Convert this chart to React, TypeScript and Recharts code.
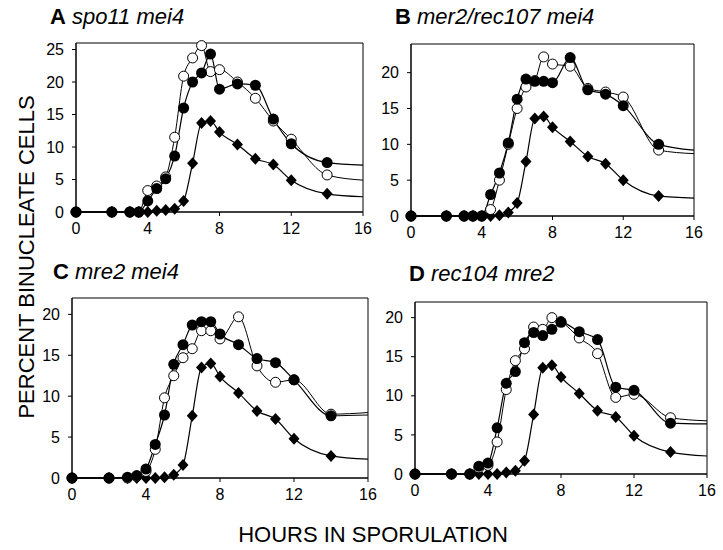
import React from "react";
import { LineChart, Line, XAxis, YAxis, ReferenceArea } from "recharts";

const hours = [0, 2, 3, 3.5, 4, 4.5, 5, 5.5, 6, 6.5, 7, 7.5, 8, 9, 10, 11, 12, 14, 16];
const xTicks = [0, 4, 8, 12, 16];

// panel A: spo11 mei4
const aFilled = [0, 0, 0, 0, 1.7, 3.6, 5.1, 8.6, 16.0, 20.0, 21.4, 24.3, 18.9, 19.7, 19.5, 14.3, 10.5, 7.6, 7.2];
const aOpen = [0, 0, 0, 0, 3.3, 4.0, 5.4, 11.5, 20.9, 23.7, 25.6, 21.6, 21.9, 20.0, 17.5, 14.0, 11.2, 5.7, 4.9];
const aDiamond = [0, 0, 0, 0, 0, 0.2, 0.3, 0.5, 1.7, 7.5, 13.7, 14.0, 12.3, 10.4, 8.2, 7.3, 4.9, 2.8, 2.35];

// panel B: mer2/rec107 mei4
const bFilled = [0, 0, 0, 0, 0, 3.0, 6.0, 10.2, 16.3, 19.1, 18.8, 18.8, 18.6, 22.1, 17.6, 17.0, 15.4, 10.0, 9.2];
const bOpen = [0, 0, 0, 0, 0, 0.9, 5.0, 10.0, 15.0, 18.0, 18.9, 22.2, 21.2, 20.9, 17.8, 17.3, 16.6, 9.2, 8.7];
const bDiamond = [0, 0, 0, 0, 0, 0, 0.1, 0.5, 1.8, 7.6, 13.6, 13.9, 12.4, 10.4, 8.3, 7.3, 5.0, 2.8, 2.5];

// panel C: mre2 mei4
const cFilled = [0, 0, 0.1, 0.3, 1.1, 4.1, 7.7, 13.9, 16.3, 18.7, 19.1, 19.1, 17.6, 16.3, 14.6, 14.1, 12.0, 7.6, 7.7];
const cOpen = [0, 0, 0, 0.2, 0.8, 3.5, 9.8, 12.5, 14.7, 15.8, 18.0, 18.0, 17.0, 19.7, 13.7, 11.7, 12.0, 7.8, 8.0];
const cDiamond = [0, 0, 0, 0, 0, 0, 0.1, 0.4, 1.6, 7.6, 13.5, 14.0, 12.4, 10.4, 8.2, 7.2, 4.8, 2.7, 2.3];

// panel D: rec104 mre2
const dFilled = [0, 0, 0, 1.0, 1.4, 5.9, 11.6, 13.1, 16.8, 18.1, 17.7, 18.5, 19.4, 18.2, 17.2, 11.1, 10.7, 6.5, 6.4];
const dOpen = [0, 0, 0, 0.8, 1.1, 4.1, 10.8, 14.5, 16.0, 18.8, 18.5, 20.0, 19.5, 17.4, 15.4, 9.8, 10.2, 7.2, 6.8];
const dDiamond = [0, 0, 0, 0, 0, 0, 0.2, 0.4, 1.7, 7.6, 13.6, 13.9, 12.4, 10.3, 8.1, 7.3, 4.9, 2.8, 2.3];

const FONT = '"Liberation Sans", Arial, sans-serif';
const TAIL = 16; // fitted curve end, no marker

const build = (filled: number[], open: number[], diamond: number[]) =>
  hours.map((h, i) => ({ hours: h, filled: filled[i], open: open[i], diamond: diamond[i] }));

const FilledDot = (p: any) =>
  p.payload.hours === TAIL ? <g key={`f${p.index}`} /> : <circle key={`f${p.index}`} cx={p.cx} cy={p.cy} r={5.5} fill="#000" />;

const OpenDot = (p: any) =>
  p.payload.hours === TAIL ? <g key={`o${p.index}`} /> : (
    <circle key={`o${p.index}`} cx={p.cx} cy={p.cy} r={5} fill="#fff" stroke="#000" strokeWidth={1} />
  );

const DiamondDot = (p: any) =>
  p.payload.hours === TAIL ? <g key={`d${p.index}`} /> : (
    <polygon
      key={`d${p.index}`}
      points={`${p.cx},${p.cy - 6} ${p.cx + 5.5},${p.cy} ${p.cx},${p.cy + 6} ${p.cx - 5.5},${p.cy}`}
      fill="#000"
    />
  );

type PanelProps = {
  data: any[];
  x1: number;
  x2: number;
  y1: number;
  y2: number;
  yMax: number;
  yTicks: number[];
};

const Panel = ({ data, x1, x2, y1, y2, yMax, yTicks }: PanelProps) => {
  const w = x2 - x1 + 60 + 15;
  const h = y2 - y1 + 10 + 40;
  const tick = { fill: "#000", fontSize: 16, fontFamily: FONT };
  return (
    <div style={{ position: "absolute", left: x1 - 60, top: y1 - 10 }}>
      <LineChart width={w} height={h} data={data} margin={{ top: 10, right: 15, left: 10, bottom: 10 }}>
        <XAxis
          type="number"
          dataKey="hours"
          domain={[0, 16]}
          ticks={xTicks}
          height={30}
          tick={tick}
          tickSize={4}
          tickMargin={7}
          stroke="#000"
        />
        <YAxis
          type="number"
          domain={[0, yMax]}
          ticks={yTicks}
          width={50}
          tick={tick}
          tickSize={4}
          tickMargin={8}
          stroke="#000"
        />
        <ReferenceArea x1={0} x2={16} y1={0} y2={yMax} fill="none" stroke="#000" strokeWidth={1} />
        <Line type="monotone" dataKey="diamond" stroke="#000" strokeWidth={1.2} dot={DiamondDot} isAnimationActive={false} />
        <Line type="monotone" dataKey="open" stroke="#000" strokeWidth={1} dot={OpenDot} isAnimationActive={false} />
        <Line type="monotone" dataKey="filled" stroke="#000" strokeWidth={1.2} dot={FilledDot} isAnimationActive={false} />
      </LineChart>
    </div>
  );
};

const Title = ({ left, top, letter, text }: { left: number; top: number; letter: string; text: string }) => (
  <div style={{ position: "absolute", left, top, fontFamily: FONT, fontSize: 22, lineHeight: "22px", whiteSpace: "nowrap" }}>
    <b>{letter}</b> <i>{text}</i>
  </div>
);

export default function App() {
  return (
    <div style={{ position: "absolute", left: 0, top: 0, width: 723, height: 550, background: "#fff", fontFamily: FONT }}>
      <Panel data={build(aFilled, aOpen, aDiamond)} x1={76} x2={363} y1={43} y2={212} yMax={26} yTicks={[0, 5, 10, 15, 20, 25]} />
      <Panel data={build(bFilled, bOpen, bDiamond)} x1={411} x2={694} y1={44} y2={216} yMax={24} yTicks={[0, 5, 10, 15, 20]} />
      <Panel data={build(cFilled, cOpen, cDiamond)} x1={72} x2={368} y1={298} y2={478} yMax={22} yTicks={[0, 5, 10, 15, 20]} />
      <Panel data={build(dFilled, dOpen, dDiamond)} x1={415} x2={707} y1={302} y2={474} yMax={22} yTicks={[0, 5, 10, 15, 20]} />
      <Title left={50} top={6} letter="A" text="spo11 mei4" />
      <Title left={395} top={6} letter="B" text="mer2/rec107 mei4" />
      <Title left={53} top={261} letter="C" text="mre2 mei4" />
      <Title left={409} top={263} letter="D" text="rec104 mre2" />
      <div
        style={{
          position: "absolute",
          left: 27,
          top: 257,
          transform: "translate(-50%, -50%) rotate(-90deg)",
          fontSize: 22,
          whiteSpace: "nowrap",
          lineHeight: "22px",
        }}
      >
        PERCENT BINUCLEATE CELLS
      </div>
      <div
        style={{
          position: "absolute",
          left: 373,
          top: 535,
          transform: "translate(-50%, -50%)",
          fontSize: 22,
          whiteSpace: "nowrap",
          lineHeight: "22px",
        }}
      >
        HOURS IN SPORULATION
      </div>
    </div>
  );
}
